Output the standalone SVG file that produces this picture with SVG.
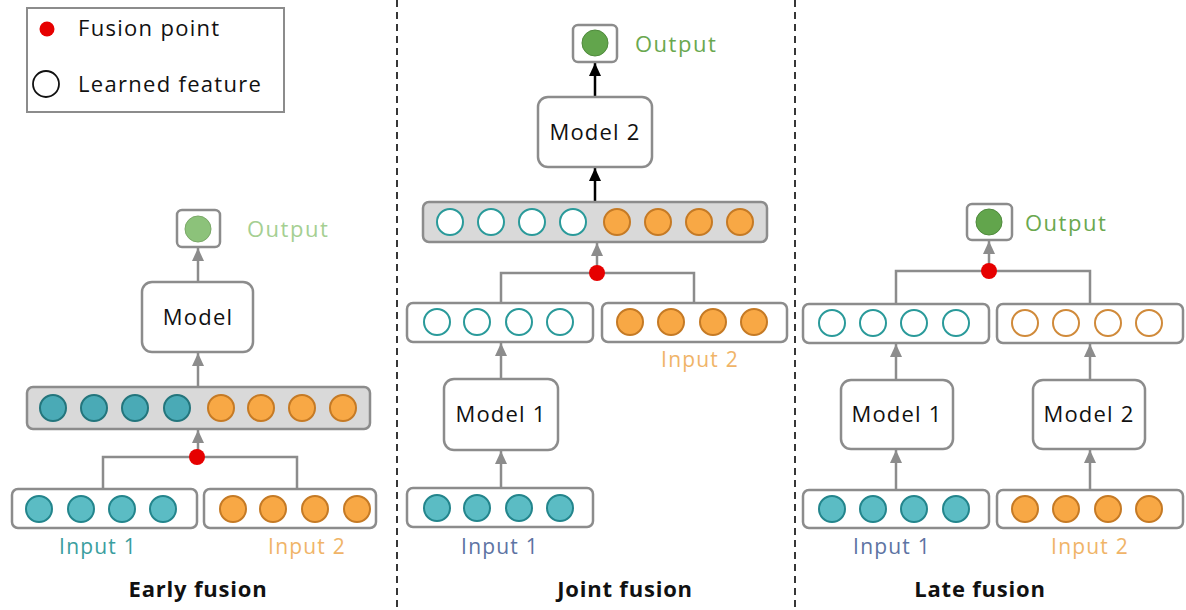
<svg xmlns="http://www.w3.org/2000/svg" width="1186" height="610" viewBox="0 0 1186 610">
<defs>
<marker id="ag" markerUnits="userSpaceOnUse" markerWidth="14" markerHeight="14" refX="13" refY="6" orient="auto"><path d="M0,0 L13,6 L0,12 z" fill="#8c8c8c"/></marker>
<marker id="ab" markerUnits="userSpaceOnUse" markerWidth="14" markerHeight="14" refX="13" refY="6" orient="auto"><path d="M0,0 L13,6 L0,12 z" fill="#000"/></marker>
<style>
text{font-family:"Open Sans","Liberation Sans",sans-serif;}
.box{fill:#fff;stroke:#8c8c8c;stroke-width:2.5;}
.bar{fill:#d9d9d9;stroke:#8c8c8c;stroke-width:2.5;}
.lbl{font-size:22px;fill:#111;text-anchor:middle;letter-spacing:1.2px;}
.ttl{font-size:22px;font-weight:bold;fill:#111;text-anchor:middle;letter-spacing:0.8px;}
.tf{fill:#5bbcc4;stroke:#23858c;stroke-width:2;}
.tfd{fill:#4aaab6;stroke:#23757c;stroke-width:2;}
.te{fill:#fff;stroke:#2a9a9a;stroke-width:2;}
.of{fill:#f8a845;stroke:#c57a25;stroke-width:2;}
.oe{fill:#fff;stroke:#d08a3a;stroke-width:2;}
.gl{stroke:#8c8c8c;stroke-width:2.5;fill:none;}
.bl{stroke:#000;stroke-width:2.5;fill:none;}
.fp{fill:#e60000;}
.dash{stroke:#222;stroke-width:1.8;stroke-dasharray:7,5;}
.out{font-size:22px;letter-spacing:1.5px;}
.in{font-size:21px;text-anchor:middle;letter-spacing:1.2px;}
.leg{font-size:22px;fill:#111;letter-spacing:1.3px;}
</style>
</defs>

<rect width="1186" height="610" fill="#fff"/>

<g id="legend">
<rect x="27" y="8" width="257" height="104" fill="#fff" stroke="#8c8c8c" stroke-width="2"/>
<circle cx="47" cy="29" r="7.5" class="fp"/>
<text x="78" y="36" class="leg">Fusion point</text>
<circle cx="46" cy="84" r="13" fill="#fff" stroke="#111" stroke-width="1.8"/>
<text x="78" y="92" class="leg">Learned feature</text>
</g>

<g id="dividers">
<line x1="397" y1="0" x2="397" y2="610" class="dash"/>
<line x1="795" y1="0" x2="795" y2="610" class="dash"/>
</g>

<g id="connectors">
<path d="M103,489 V457 H297 V489" class="gl"/>
<line x1="198" y1="457" x2="198" y2="430" class="gl" marker-end="url(#ag)"/>
<line x1="198" y1="387" x2="198" y2="353" class="gl" marker-end="url(#ag)"/>
<line x1="198" y1="282" x2="198" y2="248" class="gl" marker-end="url(#ag)"/>
<line x1="501" y1="488" x2="501" y2="451" class="gl" marker-end="url(#ag)"/>
<line x1="501" y1="379" x2="501" y2="343" class="gl" marker-end="url(#ag)"/>
<path d="M501,303 V273 H694 V303" class="gl"/>
<line x1="597" y1="273" x2="597" y2="243" class="gl" marker-end="url(#ag)"/>
<line x1="595" y1="202" x2="595" y2="168" class="bl" marker-end="url(#ab)"/>
<line x1="595" y1="97" x2="595" y2="63" class="bl" marker-end="url(#ab)"/>
<line x1="896" y1="490" x2="896" y2="450" class="gl" marker-end="url(#ag)"/>
<line x1="1090" y1="490" x2="1090" y2="450" class="gl" marker-end="url(#ag)"/>
<line x1="896" y1="380" x2="896" y2="344" class="gl" marker-end="url(#ag)"/>
<line x1="1090" y1="380" x2="1090" y2="344" class="gl" marker-end="url(#ag)"/>
<path d="M896,304 V271 H1090 V304" class="gl"/>
<line x1="989" y1="271" x2="989" y2="241" class="gl" marker-end="url(#ag)"/>
</g>

<g id="early-fusion">
<g id="early-output">
<rect x="177" y="210" width="43" height="37" rx="5" class="box"/>
<circle cx="198" cy="229" r="13" fill="#8cc27a" stroke="#7aa868" stroke-width="1"/>
<text x="247" y="237" class="out" fill="#a5cf92">Output</text>
</g>
<g id="early-model">
<rect x="142" y="282" width="111" height="70" rx="10" class="box"/>
<text x="198" y="325" class="lbl">Model</text>
</g>
<g id="early-bar">
<rect x="27" y="387" width="343" height="42" rx="6" class="bar"/>
<circle cx="53" cy="408" r="13" class="tfd"/>
<circle cx="94" cy="408" r="13" class="tfd"/>
<circle cx="135" cy="408" r="13" class="tfd"/>
<circle cx="177" cy="408" r="13" class="tfd"/>
<circle cx="221" cy="408" r="13" class="of"/>
<circle cx="261" cy="408" r="13" class="of"/>
<circle cx="302" cy="408" r="13" class="of"/>
<circle cx="343" cy="408" r="13" class="of"/>
</g>
<circle id="early-fp" cx="197" cy="457" r="8" class="fp"/>
<g id="early-input1">
<rect x="12" y="489" width="185" height="39" rx="6" class="box"/>
<circle cx="39" cy="509" r="13" class="tf"/>
<circle cx="81" cy="509" r="13" class="tf"/>
<circle cx="122" cy="509" r="13" class="tf"/>
<circle cx="163" cy="509" r="13" class="tf"/>
<text x="98" y="554" class="in" fill="#3a9e9e">Input 1</text>
</g>
<g id="early-input2">
<rect x="204" y="489" width="172" height="39" rx="6" class="box"/>
<circle cx="233" cy="509" r="13" class="of"/>
<circle cx="273" cy="509" r="13" class="of"/>
<circle cx="315" cy="509" r="13" class="of"/>
<circle cx="357" cy="509" r="13" class="of"/>
<text x="307" y="554" class="in" fill="#f0b468">Input 2</text>
</g>
<text x="198" y="597" class="ttl">Early fusion</text>
</g>

<g id="joint-fusion">
<g id="joint-output">
<rect x="573" y="25" width="44" height="37" rx="5" class="box"/>
<circle cx="595" cy="43" r="13" fill="#62a54c" stroke="#4f8a3c" stroke-width="1"/>
<text x="635" y="52" class="out" fill="#6aa84f">Output</text>
</g>
<g id="joint-model2">
<rect x="538" y="97" width="114" height="70" rx="10" class="box"/>
<text x="595" y="140" class="lbl">Model 2</text>
</g>
<g id="joint-bar">
<rect x="423" y="202" width="344" height="40" rx="6" class="bar"/>
<circle cx="450" cy="222" r="13" class="te"/>
<circle cx="491" cy="222" r="13" class="te"/>
<circle cx="532" cy="222" r="13" class="te"/>
<circle cx="573" cy="222" r="13" class="te"/>
<circle cx="617" cy="222" r="13" class="of"/>
<circle cx="658" cy="222" r="13" class="of"/>
<circle cx="699" cy="222" r="13" class="of"/>
<circle cx="740" cy="222" r="13" class="of"/>
</g>
<circle id="joint-fp" cx="597" cy="273" r="8" class="fp"/>
<g id="joint-feat1">
<rect x="407" y="303" width="186" height="39" rx="6" class="box"/>
<circle cx="437" cy="322" r="13" class="te"/>
<circle cx="477" cy="322" r="13" class="te"/>
<circle cx="519" cy="322" r="13" class="te"/>
<circle cx="560" cy="322" r="13" class="te"/>
</g>
<g id="joint-input2">
<rect x="602" y="303" width="185" height="39" rx="6" class="box"/>
<circle cx="630" cy="322" r="13" class="of"/>
<circle cx="671" cy="322" r="13" class="of"/>
<circle cx="713" cy="322" r="13" class="of"/>
<circle cx="754" cy="322" r="13" class="of"/>
<text x="700" y="367" class="in" fill="#f0b468">Input 2</text>
</g>
<g id="joint-model1">
<rect x="444" y="379" width="114" height="71" rx="10" class="box"/>
<text x="501" y="422" class="lbl">Model 1</text>
</g>
<g id="joint-input1">
<rect x="407" y="488" width="186" height="39" rx="6" class="box"/>
<circle cx="437" cy="508" r="13" class="tf"/>
<circle cx="477" cy="508" r="13" class="tf"/>
<circle cx="519" cy="508" r="13" class="tf"/>
<circle cx="560" cy="508" r="13" class="tf"/>
<text x="500" y="554" class="in" fill="#5d73a3">Input 1</text>
</g>
<text x="625" y="597" class="ttl">Joint fusion</text>
</g>

<g id="late-fusion">
<g id="late-output">
<rect x="967" y="204" width="45" height="36" rx="5" class="box"/>
<circle cx="989" cy="222" r="13" fill="#62a54c" stroke="#4f8a3c" stroke-width="1"/>
<text x="1025" y="231" class="out" fill="#6aa84f">Output</text>
</g>
<circle id="late-fp" cx="989" cy="271" r="8" class="fp"/>
<g id="late-feat1">
<rect x="803" y="304" width="186" height="39" rx="6" class="box"/>
<circle cx="832" cy="323" r="13" class="te"/>
<circle cx="873" cy="323" r="13" class="te"/>
<circle cx="914" cy="323" r="13" class="te"/>
<circle cx="956" cy="323" r="13" class="te"/>
</g>
<g id="late-feat2">
<rect x="997" y="304" width="186" height="39" rx="6" class="box"/>
<circle cx="1025" cy="323" r="13" class="oe"/>
<circle cx="1066" cy="323" r="13" class="oe"/>
<circle cx="1108" cy="323" r="13" class="oe"/>
<circle cx="1149" cy="323" r="13" class="oe"/>
</g>
<g id="late-model1">
<rect x="841" y="380" width="112" height="69" rx="10" class="box"/>
<text x="897" y="422" class="lbl">Model 1</text>
</g>
<g id="late-model2">
<rect x="1033" y="380" width="112" height="69" rx="10" class="box"/>
<text x="1089" y="422" class="lbl">Model 2</text>
</g>
<g id="late-input1">
<rect x="803" y="490" width="186" height="38" rx="6" class="box"/>
<circle cx="832" cy="509" r="13" class="tf"/>
<circle cx="873" cy="509" r="13" class="tf"/>
<circle cx="914" cy="509" r="13" class="tf"/>
<circle cx="956" cy="509" r="13" class="tf"/>
<text x="892" y="554" class="in" fill="#5d73a3">Input 1</text>
</g>
<g id="late-input2">
<rect x="997" y="490" width="186" height="38" rx="6" class="box"/>
<circle cx="1025" cy="509" r="13" class="of"/>
<circle cx="1066" cy="509" r="13" class="of"/>
<circle cx="1108" cy="509" r="13" class="of"/>
<circle cx="1149" cy="509" r="13" class="of"/>
<text x="1090" y="554" class="in" fill="#f0b468">Input 2</text>
</g>
<text x="980" y="597" class="ttl">Late fusion</text>
</g>
</svg>
